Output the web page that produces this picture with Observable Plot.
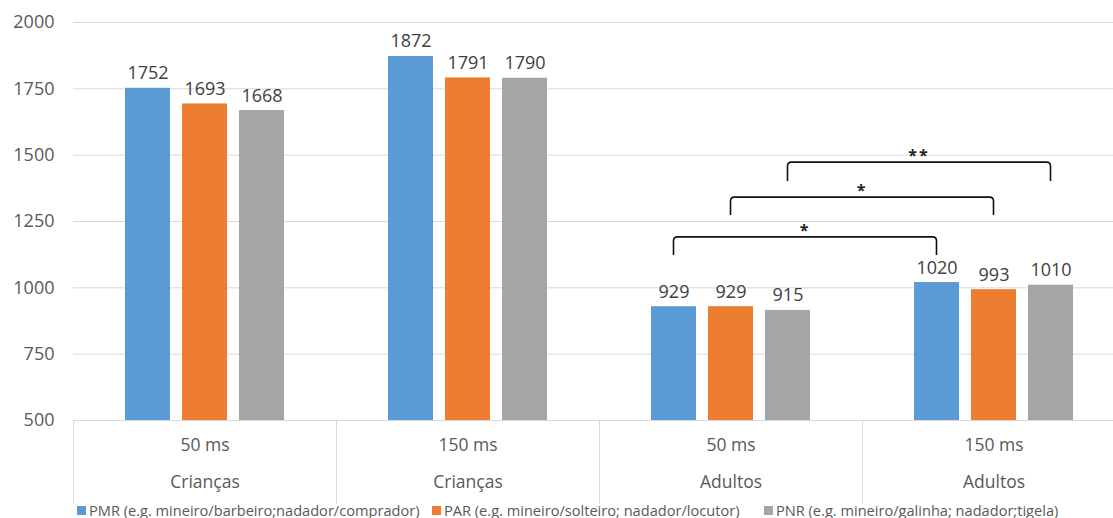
<!DOCTYPE html>
<html><head><meta charset="utf-8">
<script src="https://cdn.jsdelivr.net/npm/d3@7"></script>
<script src="https://cdn.jsdelivr.net/npm/@observablehq/plot@0.6"></script>
<style>
html,body{margin:0;padding:0;background:#fff;overflow:hidden;}
#chart svg{display:block;max-width:none;}
#legend{display:flex;padding-left:77px;font-family:"Open Sans",sans-serif;font-size:14.6px;color:#595959;height:15px;line-height:15px;white-space:nowrap}
#legend .item{display:flex;align-items:center;flex:none}
#legend .item:nth-child(1){width:355px}
#legend .item:nth-child(2){width:332px}
#legend .sw{display:inline-block;width:9px;height:9px;margin-right:3px}
</style></head><body><div id="chart"></div><div id="legend"></div>
<script>
// ---- data ----
const durations = ["50 ms", "150 ms", "50 ms", "150 ms"];
const ages = ["Crianças", "Crianças", "Adultos", "Adultos"];
const series = ["PMR", "PAR", "PNR"];
const PMR = [1752, 1872, 929, 1020];
const PAR = [1693, 1791, 929, 993];
const PNR = [1668, 1790, 915, 1010];
const legendLabels = [
  "PMR (e.g. mineiro/barbeiro;nadador/comprador)",
  "PAR (e.g. mineiro/solteiro; nadador/locutor)",
  "PNR (e.g. mineiro/galinha; nadador;tigela)"
];
const colors = ["#5b9bd5", "#ed7d31", "#a5a5a5"];
const yTicks = [500, 750, 1000, 1250, 1500, 1750, 2000];
// significance brackets (Adultos 50 ms vs Adultos 150 ms)
const bracketFromGroup = [2, 2, 2];
const bracketToGroup = [3, 3, 3];
const bracketSeries = ["PMR", "PAR", "PNR"];
const bracketTop = [1190, 1340, 1472];
const bracketLeg = [1122, 1273, 1401];
const bracketLabel = ["*", "*", "**"];

// ---- build ----
const groupKeys = durations.map((d, i) => d + "|" + ages[i]);
const values = {PMR, PAR, PNR};
const rows = [];
groupKeys.forEach((g, i) => series.forEach(s => rows.push({group: g, series: s, value: values[s][i]})));
const groupRows = groupKeys.map((g, i) => ({group: g, duration: durations[i], age: ages[i]}));

const W = 1125, H = 503, mT = 22, mB = 83, mL = 72, mR = 0;
const plotH = H - mT - mB;

const plot = Plot.plot({
  width: W, height: H,
  marginTop: mT, marginBottom: mB, marginLeft: mL, marginRight: mR,
  style: {fontFamily: "'Open Sans', sans-serif", fontSize: "16px", color: "#595959", background: "#fff", overflow: "visible"},
  fx: {domain: groupKeys, padding: 0, axis: null},
  x: {domain: series, paddingInner: 0.207, paddingOuter: 0.871, axis: null},
  y: {domain: [yTicks[0], yTicks[yTicks.length - 1]], axis: null},
  color: {domain: series, range: colors},
  marks: [
    Plot.gridY(yTicks, {stroke: "#d9d9d9", strokeOpacity: 1, strokeWidth: 1}),
    Plot.frame({anchor: "left", stroke: "#d9d9d9", strokeOpacity: 1, insetTop: plotH, insetBottom: -mB}),
    Plot.axisY(yTicks, {tickSize: 0, tickPadding: 19, fontSize: 18, fill: "#595959", label: null, tickFormat: d => String(d)}),
    Plot.barY(rows, {fx: "group", x: "series", y1: yTicks[0], y2: "value", fill: "series"}),
    Plot.text(rows, {fx: "group", x: "series", y: "value", text: d => String(d.value), lineAnchor: "bottom", dy: -9, fill: "#404040", fontSize: 18}),
    Plot.text(groupRows, {fx: "group", text: "duration", frameAnchor: "bottom", dy: 30, fill: "#595959", fontSize: 17.5}),
    Plot.text(groupRows, {fx: "group", text: "age", frameAnchor: "bottom", dy: 67, fill: "#595959", fontSize: 17.5})
  ]
});
document.getElementById("chart").appendChild(plot);

// brackets drawn with the plot's own scales
const fxS = plot.scale("fx"), xS = plot.scale("x"), yS = plot.scale("y");
const cx = (gi, s) => fxS.apply(groupKeys[gi]) + (xS.apply(s) - xS.range[0]) + xS.bandwidth / 2;
const svg = d3.select(plot);
const gB = svg.append("g");
bracketSeries.forEach((s, i) => {
  const x1 = cx(bracketFromGroup[i], s), x2 = cx(bracketToGroup[i], s);
  const yt = yS.apply(bracketTop[i]), yb = yS.apply(bracketLeg[i]);
  const r = 4;
  gB.append("path")
    .attr("d", `M${x1},${yb} L${x1},${yt + r} Q${x1},${yt} ${x1 + r},${yt} L${x2 - r},${yt} Q${x2},${yt} ${x2},${yt + r} L${x2},${yb}`)
    .attr("fill", "none").attr("stroke", "#111").attr("stroke-width", 1.6);
  gB.append("text")
    .attr("x", (x1 + x2) / 2).attr("y", yt - 1)
    .attr("text-anchor", "middle")
    .attr("font-family", "'Open Sans', sans-serif")
    .attr("font-size", 16).attr("font-weight", "bold").attr("fill", "#222")
    .attr("letter-spacing", 2)
    .text(bracketLabel[i]);
});

// legend
const leg = d3.select("#legend");
series.forEach((s, i) => {
  const it = leg.append("div").attr("class", "item");
  it.append("span").attr("class", "sw").style("background", colors[i]);
  it.append("span").text(legendLabels[i]);
});
</script></body></html>
